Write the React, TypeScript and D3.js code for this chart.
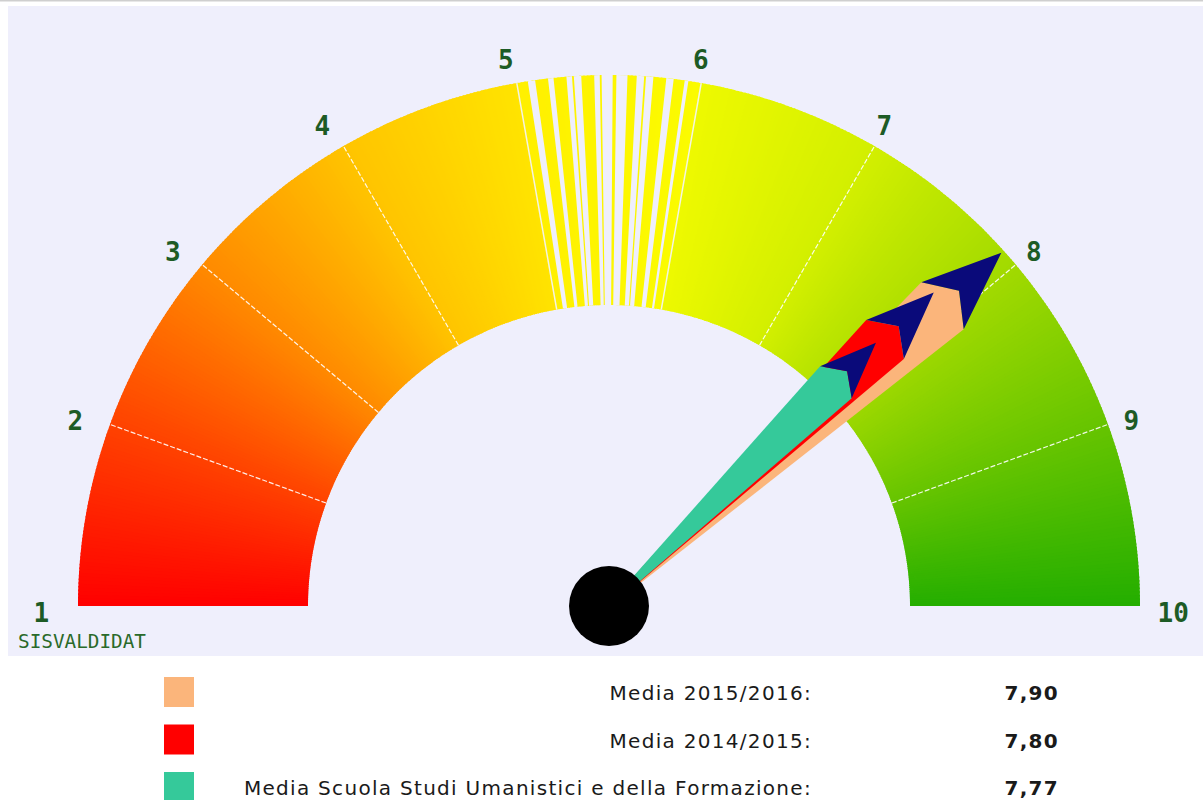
import React from 'react';
import * as d3 from 'd3';

// gauge scale
const tickValues = [1, 2, 3, 4, 5, 6, 7, 8, 9, 10];
const tickLabels = ['1', '2', '3', '4', '5', '6', '7', '8', '9', '10'];
const gradientStops = ['#ff0000', '#ff4200', '#ff8a00', '#ffc400', '#ffe400', '#eef900', '#d2ef00', '#a2da00', '#66c400', '#24ae00'];

// series (needles + legend)
const seriesNames = ['Media 2015/2016:', 'Media 2014/2015:', 'Media Scuola Studi Umanistici e della Formazione:'];
const seriesValues = [7.9, 7.8, 7.77];
const seriesLabels = ['7,90', '7,80', '7,77'];
const seriesColors = ['#fbb57b', '#ff0000', '#35c99a'];

const footerLabel = 'SISVALDIDAT';

// the white banding that shows between 5 and 6
const stripeBands = [
  [5.06, 5.1], [5.17, 5.2], [5.27, 5.3], [5.31, 5.35], [5.42, 5.45], [5.46, 5.52],
  [5.54, 5.6], [5.65, 5.69], [5.7, 5.74], [5.81, 5.85], [5.91, 5.93],
];

const W = 1203;
const H = 800;
const cx = 609;
const cy = 606;
const outerR = 531;
const innerR = 301;
const labelR = 562;
const panelColor = '#efeffc';

const App = () => {
  const angle = d3.scaleLinear().domain([1, 10]).range([-Math.PI / 2, Math.PI / 2]);
  const color = d3.scaleLinear<string>().domain(tickValues).range(gradientStops).interpolate(d3.interpolateRgb);
  const arc = d3.arc().innerRadius(innerR).outerRadius(outerR);

  // thin slices to fake an angular gradient
  const steps = 450;
  const slices = d3.range(steps).map(i => {
    const v0 = 1 + (9 * i) / steps;
    const v1 = 1 + (9 * (i + 1)) / steps;
    let c = color((v0 + v1) / 2);
    if (v0 >= 5 && v1 <= 6) c = d3.interpolateRgb('#fff000', '#fbfb00')((v0 - 5));
    return { v0, v1, c };
  });

  const polar = (v, r) => {
    const a = angle(v);
    return [cx + r * Math.sin(a), cy - r * Math.cos(a)];
  };

  const needleLen = outerR - 3;

  return (
    <svg width={W} height={H} style={{ position: 'absolute', left: 0, top: 0, background: '#fff' }}>
      <rect x={0} y={0} width={W} height={1.5} fill="#cfcfcf" />
      <rect x={8} y={6} width={W - 8} height={650} fill={panelColor} />

      {/* colored band */}
      <g transform={`translate(${cx},${cy})`}>
        {slices.map((s, i) => (
          <path
            key={i}
            d={arc({ startAngle: angle(s.v0), endAngle: Math.min(angle(s.v1) + 0.003, Math.PI / 2) } as any)}
            fill={s.c}
          />
        ))}
        {stripeBands.map((b, i) => (
          <path key={'s' + i} d={arc({ startAngle: angle(b[0]), endAngle: angle(b[1]) } as any)} fill={panelColor} />
        ))}
      </g>

      {/* dividers */}
      {tickValues.slice(1, -1).map(v => {
        const [x1, y1] = polar(v, innerR);
        const [x2, y2] = polar(v, outerR);
        const solid = v === 5 || v === 6;
        return (
          <line
            key={v}
            x1={x1}
            y1={y1}
            x2={x2}
            y2={y2}
            stroke={solid ? '#f4f4fc' : '#ffffff'}
            strokeWidth={solid ? 1.5 : 1.2}
            strokeDasharray={solid ? null : '5 2'}
            opacity={0.9}
          />
        );
      })}

      {/* tick labels */}
      {tickValues.map((v, i) => {
        const [x, y] = polar(v, labelR);
        return (
          <text
            key={v}
            x={x - 13.5}
            y={y + 16}
            fontFamily="'DejaVu Sans Mono', monospace"
            fontWeight="bold"
            fontSize={26}
            fill="#1d5b25"
          >
            {tickLabels[i]}
          </text>
        );
      })}

      <text x={18} y={648} fontFamily="'DejaVu Sans Mono', monospace" fontSize={19} fill="#2a6a2a" textLength={128} lengthAdjust="spacingAndGlyphs">
        {footerLabel}
      </text>

      {/* needles */}
      {seriesValues.map((v, i) => {
        const L = needleLen * (1 - 0.145 * i);
        const hw = 0.06 * L;
        const wingY = -0.85 * L;
        const notchY = -0.892 * L;
        const deg = (angle(v) * 180) / Math.PI;
        const shaft = [[-1.5, 0], [-hw, wingY], [0, notchY], [hw, wingY], [1.5, 0]];
        const head = [[-hw, wingY], [0, -L], [hw, wingY], [0, notchY]];
        return (
          <g key={i} transform={`translate(${cx},${cy}) rotate(${deg})`}>
            <path d={d3.line()(shaft as any) + 'Z'} fill={seriesColors[i]} />
            <path d={d3.line()(head as any) + 'Z'} fill="#0a0a7a" />
          </g>
        );
      })}

      <circle cx={cx} cy={cy} r={40} fill="#000" />

      {/* legend */}
      {seriesNames.map((name, i) => {
        const top = 677 + i * 47.5;
        return (
          <g key={name}>
            <rect x={164} y={top} width={30} height={30} fill={seriesColors[i]} />
            <text
              x={812}
              y={top + 23}
              textAnchor="end"
              fontFamily="'DejaVu Sans', Verdana, sans-serif"
              fontSize={20}
              letterSpacing={1.3}
              fill="#1a1a1a"
            >
              {name}
            </text>
            <text
              x={1059}
              y={top + 23}
              textAnchor="end"
              fontFamily="'DejaVu Sans', Verdana, sans-serif"
              fontWeight="bold"
              fontSize={20}
              letterSpacing={1.3}
              fill="#1a1a1a"
            >
              {seriesLabels[i]}
            </text>
          </g>
        );
      })}
    </svg>
  );
};

export default App;
